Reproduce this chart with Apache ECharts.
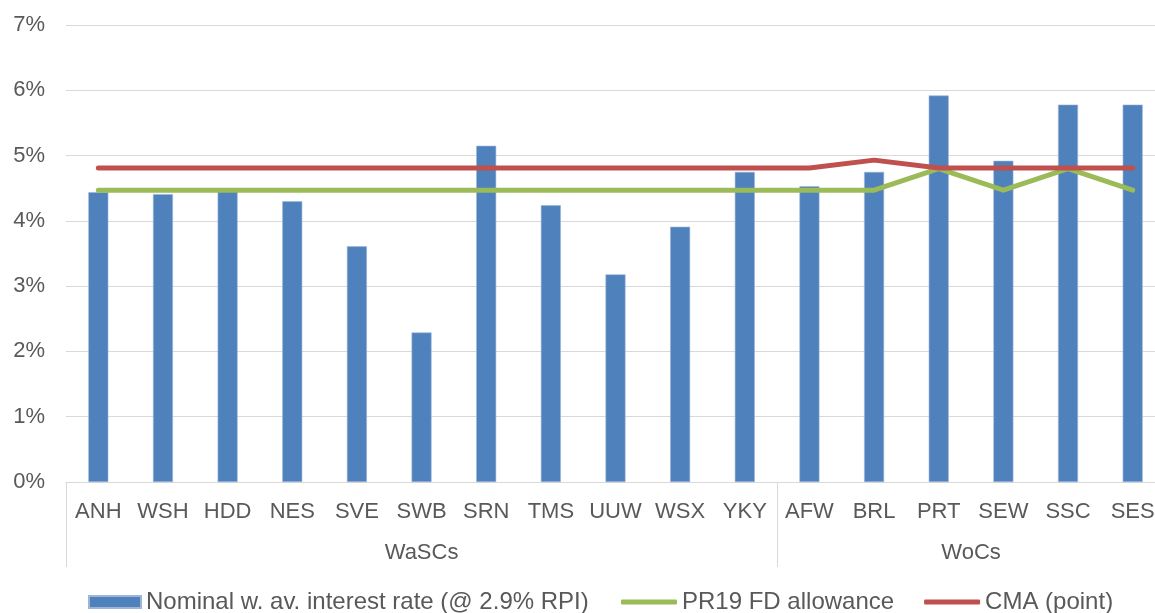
<!DOCTYPE html>
<html>
<head>
<meta charset="utf-8">
<script src="https://cdn.jsdelivr.net/npm/echarts@6/dist/echarts.min.js"></script>
<style>
html,body{margin:0;padding:0;background:#fff;overflow:hidden;width:1155px;height:613px;}
#chart{width:1168px;height:613px;}
</style>
</head>
<body>
<div id="chart"></div>
<script>
const categories = ['ANH','WSH','HDD','NES','SVE','SWB','SRN','TMS','UUW','WSX','YKY','AFW','BRL','PRT','SEW','SSC','SES'];
const groupNames = ['WaSCs','WoCs'];
const groupSizes = [11, 6];
const rateValues = [4.44, 4.41, 4.46, 4.30, 3.61, 2.29, 5.15, 4.24, 3.18, 3.91, 4.75, 4.53, 4.75, 5.92, 4.92, 5.78, 5.78];
const allowanceValues = [4.47, 4.47, 4.47, 4.47, 4.47, 4.47, 4.47, 4.47, 4.47, 4.47, 4.47, 4.47, 4.47, 4.80, 4.47, 4.80, 4.47];
const cmaValues = [4.81, 4.81, 4.81, 4.81, 4.81, 4.81, 4.81, 4.81, 4.81, 4.81, 4.81, 4.81, 4.93, 4.81, 4.81, 4.81, 4.81];
const seriesNames = ['Nominal w. av. interest rate (@ 2.9% RPI)', 'PR19 FD allowance', 'CMA (point)'];
const yMin = 0, yMax = 7, yStep = 1;

const BLUE = '#4F81BD', GREEN = '#9BBB59', RED = '#C0504D';

// half-unit positions for the group axis (boundaryGap false): n categories -> 2n+1 positions
const nCat = categories.length;
const groupAxisData = new Array(2 * nCat + 1).fill('');
const dividerIdx = [0];
let start = 0;
groupNames.forEach((g, i) => {
  const size = groupSizes[i];
  groupAxisData[start * 2 + size] = g;   // centre of group
  start += size;
  dividerIdx.push(start * 2);
});

const textColor = '#595959';
const font = 'Liberation Sans, Arial, sans-serif';
const chart = echarts.init(document.getElementById('chart'), null, {renderer: 'canvas'});
chart.setOption({
  animation: false,
  color: [BLUE, GREEN, RED],
  grid: {left: 66, right: 0, top: 25, bottom: 131, containLabel: false},
  legend: [
    {
      left: 88, top: 590, padding: 0,
      itemWidth: 52, itemHeight: 12,
      textStyle: {color: textColor, fontSize: 24, fontFamily: font},
      data: [{name: seriesNames[0], icon: 'rect', itemStyle: {color: BLUE}}]
    },
    {
      left: 621, top: 590, padding: 0,
      itemGap: 30, itemWidth: 56, itemHeight: 5,
      textStyle: {color: textColor, fontSize: 24, fontFamily: font},
      data: [
        {name: seriesNames[1], icon: 'roundRect', itemStyle: {color: GREEN}},
        {name: seriesNames[2], icon: 'roundRect', itemStyle: {color: RED}}
      ]
    }
  ],
  xAxis: [
    {
      type: 'category', data: categories, position: 'bottom',
      axisLine: {show: true, lineStyle: {color: '#D9D9D9', width: 1}},
      axisTick: {show: false},
      axisLabel: {color: textColor, fontSize: 22, fontFamily: font, margin: 19, interval: 0}
    },
    {
      type: 'category', data: groupAxisData, position: 'bottom', boundaryGap: false,
      axisLine: {show: false},
      axisTick: {show: true, length: 85, interval: (idx) => dividerIdx.indexOf(idx) >= 0,
                 lineStyle: {color: '#D9D9D9', width: 1}},
      axisLabel: {color: textColor, fontSize: 22, fontFamily: font, margin: 60, interval: 0},
      splitLine: {show: false}
    }
  ],
  yAxis: {
    type: 'value', min: yMin, max: yMax, interval: yStep,
    axisLine: {show: false}, axisTick: {show: false},
    axisLabel: {color: textColor, fontSize: 22, fontFamily: font, margin: 21, formatter: '{value}%'},
    splitLine: {lineStyle: {color: '#D9D9D9', width: 1}}
  },
  series: [
    {
      name: seriesNames[0], type: 'bar', data: rateValues, barWidth: 20,
      itemStyle: {color: BLUE, borderColor: '#9DB6D8', borderWidth: 0.6}
    },
    {
      name: seriesNames[1], type: 'line', data: allowanceValues, symbol: 'none',
      lineStyle: {color: GREEN, width: 5, cap: 'round', join: 'round'}, z: 3
    },
    {
      name: seriesNames[2], type: 'line', data: cmaValues, symbol: 'none',
      lineStyle: {color: RED, width: 5, cap: 'round', join: 'round'}, z: 4
    }
  ]
});
</script>
</body>
</html>
